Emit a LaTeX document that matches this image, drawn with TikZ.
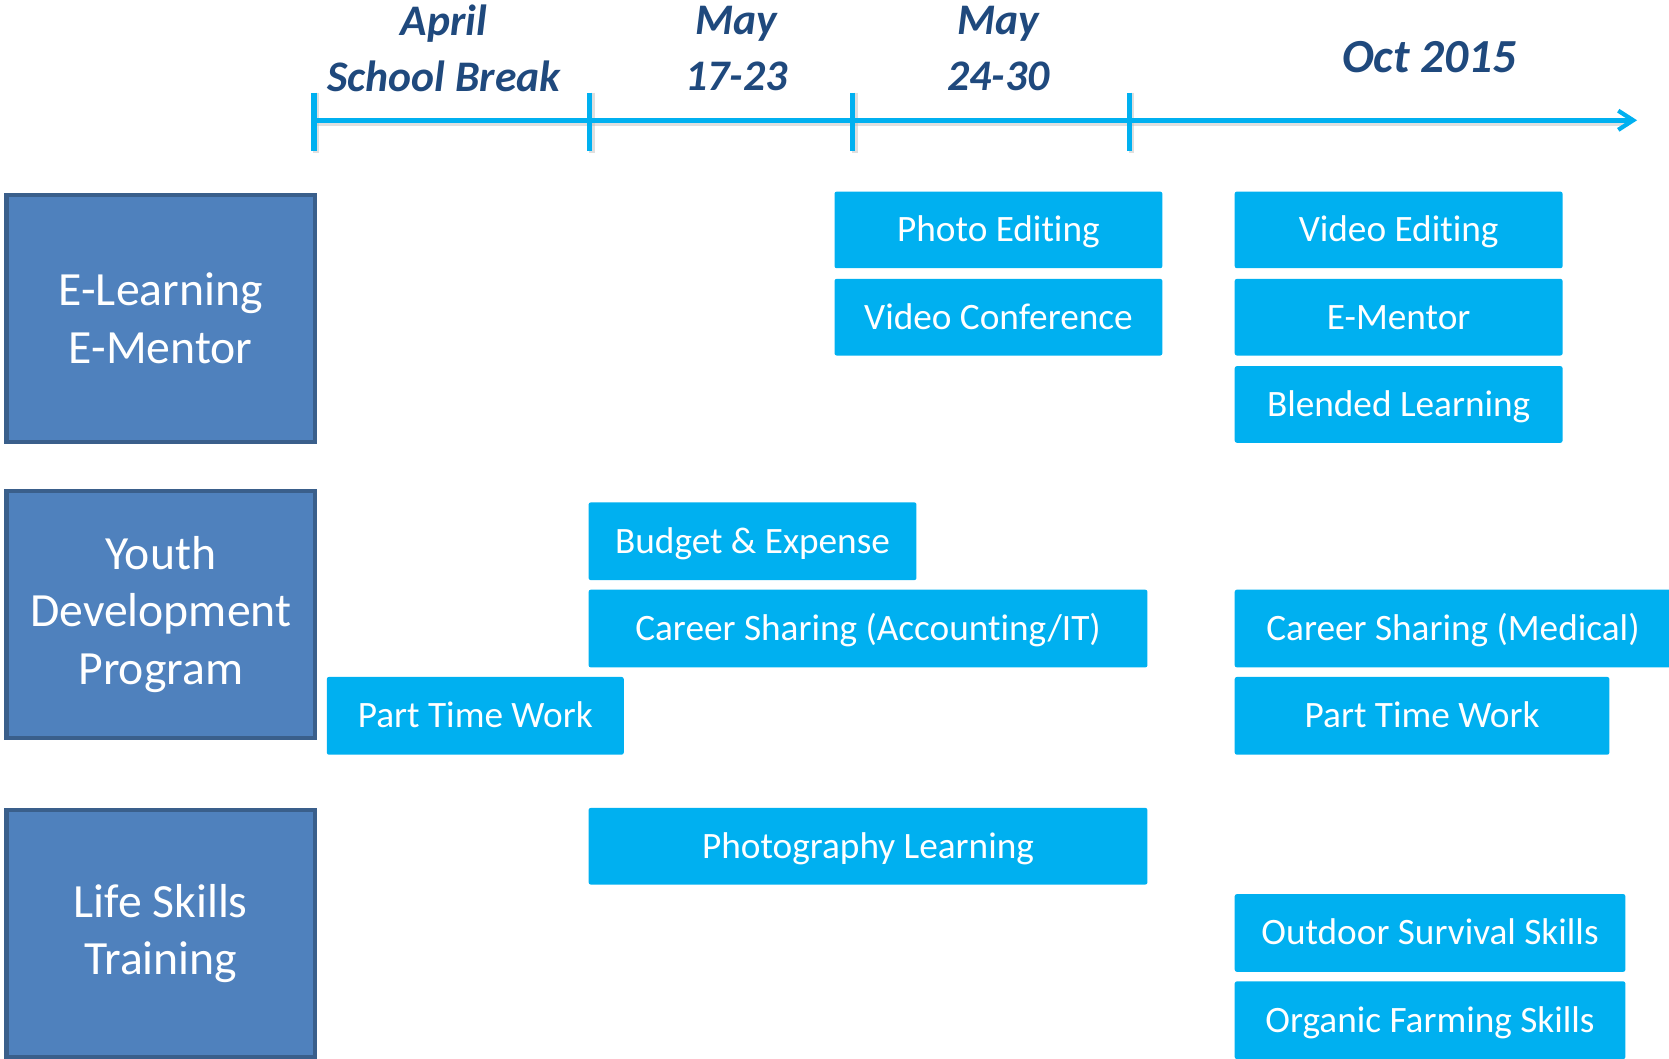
\documentclass[tikz,border=0pt]{standalone}
\usepackage{fontspec}
\setmainfont{Carlito}[Ligatures=NoCommon]
\usetikzlibrary{arrows.meta}
\definecolor{cyanbox}{HTML}{00B0F0}
\definecolor{navyhead}{HTML}{1F497D}
\definecolor{catfill}{HTML}{4F81BD}
\definecolor{catline}{HTML}{3A5F8B}
\tikzset{
  axisline/.style={draw=cyanbox, line width=2.6pt},
  axisshadow/.style={draw=black!25, line width=2.6pt, opacity=0.5},
  headtext/.style={text=navyhead, font=\fontsize{20.5}{24}\selectfont\bfseries\itshape, inner sep=0pt},
  catbox/.style={fill=catfill, draw=catline, line width=2pt, text=white, align=center, inner sep=0pt,
    font=\fontsize{22.4}{27}\selectfont, anchor=north west},
  actbox/.style={fill=cyanbox, rounded corners=1pt, text=white, inner sep=0pt, outer sep=0pt,
    text height=13pt, text depth=1.8pt,
    font=\fontsize{17.5}{21}\selectfont, anchor=north west},
}
\newcommand{\actnode}[6]{\node[actbox, minimum width={(#4-#2)*0.5pt}, minimum height={(#5-#3)*0.5pt}] (#1) at (#2,#3) {#6};}
\begin{document}
\begin{tikzpicture}[x=0.5pt,y=-0.5pt]
\useasboundingbox (0,0) rectangle (1568,994);
% timeline
\coordinate (t0) at (295,113);
\coordinate (t1) at (554,113);
\coordinate (t2) at (801,113);
\coordinate (t3) at (1061,113);
\coordinate (tend) at (1538,113);
\draw[axisshadow] ([xshift=1pt,yshift=-1.2pt]t0) -- ([xshift=-4pt,yshift=-1.2pt]tend);
\foreach \c in {t0,t1,t2,t3} {
  \draw[axisshadow] ([xshift=1pt,yshift=13pt]\c) -- ([xshift=1pt,yshift=-15.5pt]\c);
}
\draw[axisline, -{Straight Barb[length=7pt,width=9pt,line width=2pt]}] (t0) -- (tend);
\foreach \c in {t0,t1,t2,t3} {
  \draw[axisline] ([yshift=13pt]\c) -- ([yshift=-14.5pt]\c);
}
% headers
\node[headtext] (h1a) at (417,22) {April};
\node[headtext] (h1b) at (417,72) {School Break};
\node[headtext] (h2a) at (692,22) {May};
\node[headtext] (h2b) at (692,72) {17-23};
\node[headtext] (h3a) at (938,22) {May};
\node[headtext] (h3b) at (938,72) {24-30};
\node[headtext, font=\fontsize{22.3}{26}\selectfont\bfseries\itshape] (h4) at (1343,54) {Oct 2015};
% categories
\node[catbox, minimum width=145pt, minimum height=116pt] (c1) at (4,181) {E-Learning\\E-Mentor};
\node[catbox, minimum width=145pt, minimum height=116pt] (c2) at (4,459) {Youth\\Development\\Program};
\node[catbox, minimum width=145pt, minimum height=116pt] (c3) at (4,759) {Life Skills\\Training};
% activities
\actnode{a1}{784}{180}{1092}{252}{Photo Editing}
\actnode{a2}{784}{262}{1092}{334}{Video Conference}
\actnode{a3}{1160}{180}{1468}{252}{Video Editing}
\actnode{a4}{1160}{262}{1468}{334}{E-Mentor}
\actnode{a5}{1160}{344}{1468}{416}{Blended Learning}
\actnode{a6}{553}{472}{861}{545}{Budget \& Expense}
\actnode{a7}{553}{554}{1078}{627}{Career Sharing (Accounting/IT)}
\actnode{a8}{307}{636}{586}{709}{Part Time Work}
\actnode{a9}{1160}{554}{1570}{627}{Career Sharing (Medical)}
\actnode{a10}{1160}{636}{1512}{709}{Part Time Work}
\actnode{a11}{553}{759}{1078}{831}{Photography Learning}
\actnode{a12}{1160}{840}{1527}{913}{Outdoor Survival Skills}
\actnode{a13}{1160}{922}{1527}{995}{Organic Farming Skills}
\end{tikzpicture}
\end{document}
